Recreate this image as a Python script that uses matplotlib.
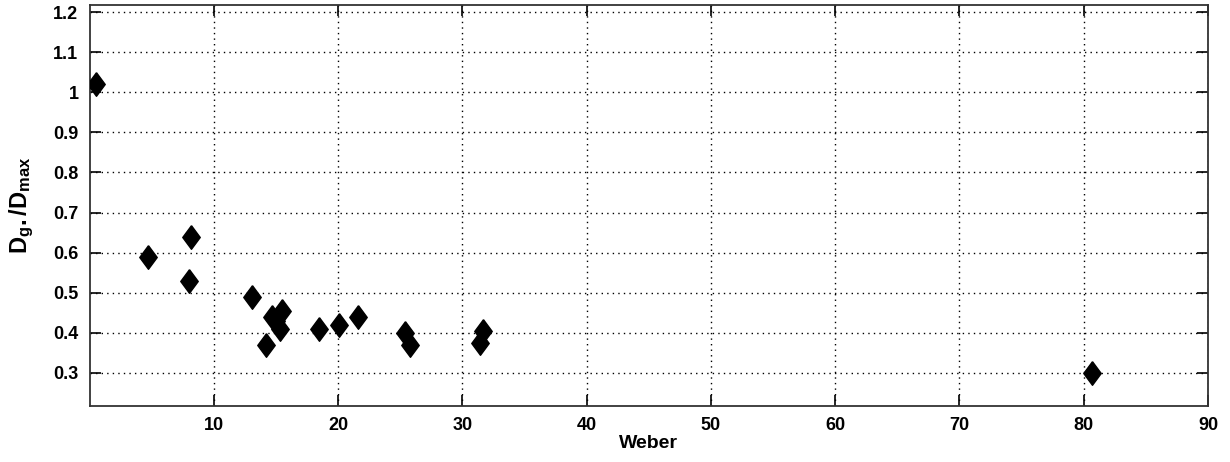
from matplotlib import pyplot as plt
import numpy as np

# data
weber = [0.5, 4.7, 8.2, 8.0, 13.1, 14.2, 14.7, 15.0, 15.5, 15.3,
         18.5, 20.1, 21.6, 25.4, 25.8, 31.4, 31.7, 80.7]
dg_dmax = [1.02, 0.59, 0.64, 0.53, 0.49, 0.37, 0.44, 0.43, 0.455, 0.41,
           0.41, 0.42, 0.44, 0.40, 0.37, 0.375, 0.405, 0.30]

xticks = [10, 20, 30, 40, 50, 60, 70, 80, 90]
yticks = [0.3, 0.4, 0.5, 0.6, 0.7, 0.8, 0.9, 1.0, 1.1, 1.2]
yticklabels = ['0.3', '0.4', '0.5', '0.6', '0.7', '0.8', '0.9', '1', '1.1', '1.2']

plt.rcParams['font.family'] = ['Liberation Sans', 'DejaVu Sans']
plt.rcParams['mathtext.fontset'] = 'custom'
plt.rcParams['mathtext.bf'] = 'Liberation Sans:bold'
plt.rcParams['mathtext.rm'] = 'Liberation Sans:bold'
plt.rcParams['mathtext.it'] = 'Liberation Sans:bold'

# matlab-like diamond, a bit taller than wide
diamond = [(0, 1), (0.74, 0), (0, -1), (-0.74, 0), (0, 1)]

fig = plt.figure(figsize=(12.3, 4.62), dpi=100)
ax = fig.add_axes([89.5/1230, 1 - 406/462, (1208 - 89.5)/1230, (406 - 5)/462])

ax.plot(weber, dg_dmax, linestyle='none', marker=diamond, markersize=17,
        color='black', markeredgewidth=1, zorder=3)

ax.set_xlim(0, 90)
ax.set_ylim(0.2175, 1.2175)
ax.set_xticks(xticks)
ax.set_xticklabels([str(t) for t in xticks])
ax.set_yticks(yticks)
ax.set_yticklabels(yticklabels)

ax.grid(True, linestyle=(0, (1, 3)), color='black', linewidth=1.0)
ax.tick_params(direction='in', length=8, width=1.2, top=True, right=True,
               labelsize=13, pad=8)
for lab in ax.get_xticklabels() + ax.get_yticklabels():
    lab.set_fontweight('bold')
for s in ax.spines.values():
    s.set_linewidth(1.3)
    s.set_color('#333333')

ax.set_xlabel('Weber', fontsize=14, fontweight='bold', labelpad=1)
ax.set_ylabel(r'$\mathbf{D_g./D_{max}}$', fontsize=17, labelpad=12)

plt.savefig('out.png', dpi=100)
